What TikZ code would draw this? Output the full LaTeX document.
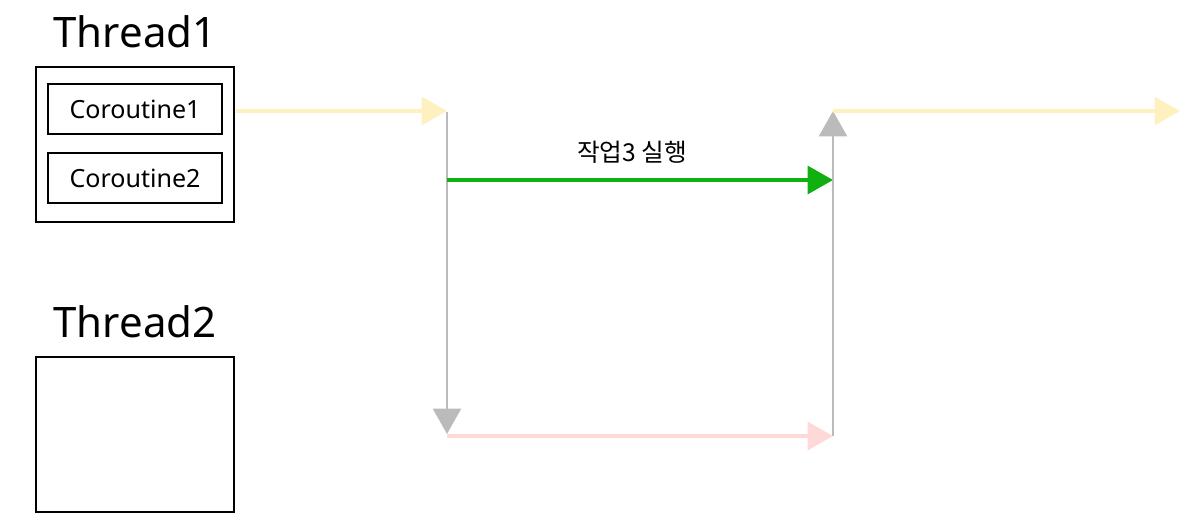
\documentclass[tikz,border=0pt]{standalone}
\usepackage{fontspec}
\setmainfont{Noto Sans}
\newfontfamily\krfont{Noto Sans CJK KR}
\usetikzlibrary{arrows.meta}
\definecolor{ylw}{HTML}{FFF0C0}
\definecolor{gry}{HTML}{BBBBBB}
\definecolor{grn}{HTML}{10B010}
\definecolor{pnk}{HTML}{FFD8D8}
\tikzset{
  box/.style={draw=black, line width=1.5pt, inner sep=0pt},
  title/.style={font=\fontsize{31.5}{36}\selectfont, inner sep=0pt, anchor=base},
  cotext/.style={font=\fontsize{18.8}{22}\selectfont},
  flow/.style={line width=2.3pt, -{Triangle[length=19pt,width=21pt]}},
  vflow/.style={line width=1.7pt, draw=gry, -{Triangle[length=19pt,width=21pt]}},
}
\begin{document}
\begin{tikzpicture}[x=0.75pt,y=-0.75pt]
\useasboundingbox (0,0) rectangle (1196,522);
% Thread boxes
\node[title] (th1) at (135,47) {Thread1};
\node[box, minimum width=148.5pt, minimum height=116.25pt] (t1) at (135,144.5) {};
\node[box, minimum width=130.5pt, minimum height=37.5pt, cotext] (c1) at (135,109) {Coroutine1};
\node[box, minimum width=130.5pt, minimum height=37.5pt, cotext] (c2) at (135,178) {Coroutine2};
\node[title] (th2) at (135,337) {Thread2};
\node[box, minimum width=148.5pt, minimum height=116.25pt] (t2) at (135,434.5) {};
% coordinates
\coordinate (s1) at (236,111);
\coordinate (p1) at (447,111);
\coordinate (q1) at (447,112);
\coordinate (p2) at (447,434);
\coordinate (r2) at (447,436);
\coordinate (p3) at (833,436);
\coordinate (p4) at (833,111);
\coordinate (p5) at (1180,111);
\coordinate (g1) at (447,180);
\coordinate (g2) at (833,180);
% arrows
\draw[flow, draw=ylw] (s1) -- (p1);
\draw[vflow] (q1) -- (p2);
\draw[flow, draw=grn] (g1) -- (g2);
\node[font=\krfont\fontsize{18.5}{22}\selectfont] (lbl) at (632,152) {작업3 실행};
\draw[flow, draw=pnk] (r2) -- (p3);
\draw[vflow] (p3) -- (p4);
\draw[flow, draw=ylw] (p4) -- (p5);
\end{tikzpicture}
\end{document}
